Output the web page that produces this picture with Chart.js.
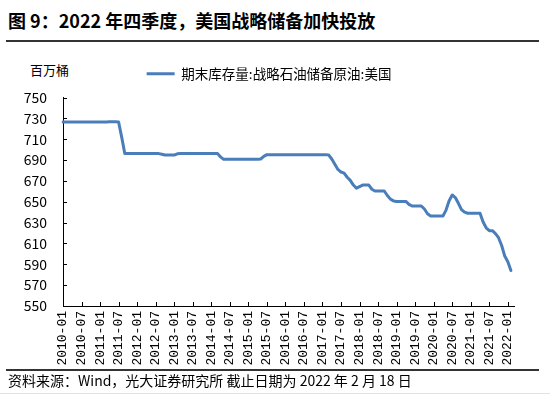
<!DOCTYPE html>
<html>
<head>
<meta charset="utf-8">
<script src="https://cdn.jsdelivr.net/npm/chart.js@4/dist/chart.umd.min.js"></script>
<style>
    body { margin: 0; background: #fff; width: 550px; height: 395px; position: relative; overflow: hidden;
           font-family: 'Noto Sans CJK SC', 'Noto Sans', sans-serif; color: #000; }
    .title { position: absolute; left: 8px; top: 7px; font-size: 18px; font-weight: bold; line-height: 26px; white-space: nowrap; }
    .rule { position: absolute; left: 6px; width: 533px; height: 2px; background: #333; }
    .unit { position: absolute; left: 30px; top: 61px; font-size: 13px; line-height: 18px; }
    .source { position: absolute; left: 8px; top: 371px; font-size: 14px; line-height: 18px; white-space: nowrap; }
    .edge { position: absolute; left: 0; top: 393px; width: 550px; height: 1px; background: #e2e2e2; }
    #chart { position: absolute; left: 0; top: 57px; }
</style>
</head>
<body>
<div class="title">图 9：2022 年四季度，美国战略储备加快投放</div>
<div class="rule" style="top:40px"></div>
<div class="unit">百万桶</div>
<canvas id="chart" width="550" height="313"></canvas>
<div class="rule" style="top:369px"></div>
<div class="source">资料来源：Wind，光大证券研究所 截止日期为 2022 年 2 月 18 日</div>
<div class="edge"></div>

<script>
const seriesName = '期末库存量:战略石油储备原油:美国';
const firstYear = 2010;
const monthCount = 147; // 2010-01 .. 2022-03
const tickMonths = ['01', '07'];
const yTicks = { min: 550, max: 750, step: 20 };

// month-end level, million barrels
const spr2010 = [726.5, 726.5, 726.5, 726.5, 726.5, 726.5, 726.5, 726.5, 726.5, 726.5, 726.5, 726.5];
const spr2011 = [726.6, 726.6, 726.6, 726.7, 726.7, 726.7, 726.5, 712, 696.2, 696.2, 696.2, 696.2];
const spr2012 = [696.2, 696.2, 696.2, 696.2, 696.2, 696.2, 696.2, 696.2, 695.5, 694.8, 694.8, 694.8];
const spr2013 = [694.8, 696, 696.2, 696.2, 696.2, 696.2, 696.2, 696.2, 696.2, 696.2, 696.2, 696.2];
const spr2014 = [696.2, 696.2, 696.4, 693, 690.7, 690.7, 690.7, 690.7, 690.7, 690.7, 690.7, 690.7];
const spr2015 = [690.7, 690.7, 690.7, 690.7, 691, 693.5, 695.2, 695.2, 695.2, 695.2, 695.2, 695.2];
const spr2016 = [695.2, 695.2, 695.2, 695.2, 695.2, 695.2, 695.2, 695.2, 695.2, 695.2, 695.2, 695.2];
const spr2017 = [695.2, 695.2, 694.8, 691, 686, 681, 678.5, 677.5, 673.5, 670.5, 666, 663];
const spr2018 = [664.5, 666, 666, 666, 662, 660.3, 660.3, 660.3, 660.3, 656, 652.5, 650.8];
const spr2019 = [650.3, 650.3, 650.3, 650.3, 647.5, 645.9, 645.9, 645.9, 645.9, 643, 638.5, 636.4];
const spr2020 = [636.4, 636.4, 636.4, 636.4, 642, 651, 656.5, 654, 648.5, 642.5, 640, 639];
const spr2021 = [639, 639, 639, 639, 630.5, 625, 622.3, 622.3, 619.5, 615.5, 608, 598];
const spr2022 = [592.5, 584, null];

const stock = [].concat(spr2010, spr2011, spr2012, spr2013, spr2014, spr2015,
                        spr2016, spr2017, spr2018, spr2019, spr2020, spr2021, spr2022);

const blue = '#4a7ebb';

function monthLabels() {
    const out = [];
    for (let i = 0; i < monthCount; i++) {
        const m = i % 12 + 1;
        out.push((firstYear + Math.floor(i / 12)) + '-' + (m < 10 ? '0' + m : m));
    }
    return out;
}

// short tick marks pointing into the plot
const innerTicks = {
    id: 'innerTicks',
    afterDraw(chart) {
        const { ctx, chartArea, scales } = chart;
        ctx.save();
        ctx.strokeStyle = '#000';
        ctx.lineWidth = 1;
        ctx.beginPath();
        scales.x.ticks.forEach(function(t, i) {
            const px = Math.round(scales.x.getPixelForTick(i)) + 0.5;
            ctx.moveTo(px, chartArea.bottom);
            ctx.lineTo(px, chartArea.bottom - 4);
        });
        scales.y.ticks.forEach(function(t, i) {
            const py = Math.round(scales.y.getPixelForTick(i)) + 0.5;
            ctx.moveTo(chartArea.left, py);
            ctx.lineTo(chartArea.left + 4, py);
        });
        ctx.stroke();
        ctx.restore();
    }
};

// a bit more room under the legend
const legendGap = {
    id: 'legendGap',
    beforeInit(chart) {
        const fit = chart.legend.fit;
        chart.legend.fit = function() {
            fit.bind(chart.legend)();
            this.height += 7;
        };
    }
};

function makeChart() {
    const labels = monthLabels();
    Chart.defaults.font.family = "'Noto Sans CJK SC', 'Noto Sans', sans-serif";
    Chart.defaults.color = '#000';

    new Chart(document.getElementById('chart'), {
        type: 'line',
        data: {
            labels: labels,
            datasets: [{
                label: seriesName,
                data: stock,
                borderColor: blue,
                backgroundColor: blue,
                borderWidth: 3,
                pointRadius: 0,
                tension: 0,
                borderJoinStyle: 'round',
                borderCapStyle: 'round'
            }]
        },
        options: {
            responsive: false,
            animation: false,
            layout: { padding: { left: 24, right: 36, top: 0, bottom: 0 } },
            plugins: {
                tooltip: { enabled: false },
                legend: {
                    position: 'top',
                    labels: {
                        boxWidth: 28,
                        boxHeight: 3,
                        padding: 10,
                        font: { size: 13.5 },
                        generateLabels: function(chart) {
                            return [{ text: seriesName, fillStyle: blue, strokeStyle: blue, lineWidth: 0, datasetIndex: 0 }];
                        }
                    }
                }
            },
            scales: {
                x: {
                    type: 'category',
                    offset: false,
                    afterBuildTicks: function(scale) {
                        scale.ticks = scale.ticks.filter(function(t) {
                            return tickMonths.indexOf(labels[t.value].slice(5)) >= 0;
                        });
                    },
                    afterFit: function(scale) { scale.height = 64; },
                    grid: { display: false, drawTicks: false },
                    border: { display: true, color: '#000', width: 1 },
                    ticks: {
                        autoSkip: false,
                        maxRotation: 90,
                        minRotation: 90,
                        padding: 5,
                        font: { family: "'Liberation Mono', monospace", size: 13 }
                    }
                },
                y: {
                    min: yTicks.min,
                    max: yTicks.max,
                    afterFit: function(scale) { scale.width = 39; },
                    grid: { display: false, drawTicks: false },
                    border: { display: true, color: '#000', width: 1 },
                    ticks: { stepSize: yTicks.step, padding: 16, font: { size: 14 } }
                }
            }
        },
        plugins: [innerTicks, legendGap]
    });
}

makeChart();
</script>
</body>
</html>
